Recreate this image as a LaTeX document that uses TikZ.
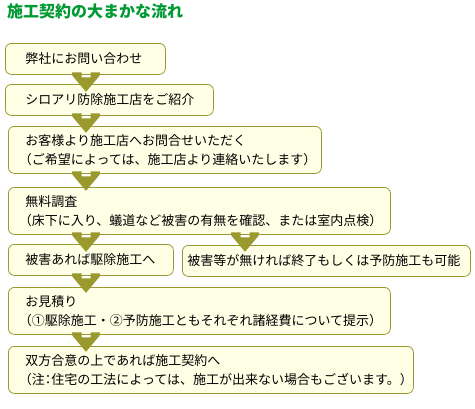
\documentclass[tikz,border=0pt]{standalone}
\usepackage{fontspec}
\newfontfamily\jp{Noto Sans CJK JP}
\newfontfamily\jphalf{Noto Sans CJK JP}[RawFeature=+halt]
\newcommand\hw[1]{{\jphalf #1}}
\definecolor{titlegreen}{RGB}{0,153,51}
\definecolor{boxline}{RGB}{153,153,51}
\definecolor{boxfill}{RGB}{255,255,230}
\definecolor{arrowfill}{RGB}{153,153,46}
\begin{document}
\begin{tikzpicture}[x=1pt,y=-1pt,
    flowbox/.style={draw=boxline,fill=boxfill,line width=0.8pt,rounded corners=6pt,
      anchor=north west,align=left,inner xsep=0pt,inner ysep=0pt,
      font=\jp\fontsize{13}{19}\selectfont,
      execute at begin node={\leftskip=#1}},
    flowbox/.default=17pt,
    flowarrow/.pic={\fill[arrowfill] (-14,-2.5) -- (-4.5,-2.5) -- (-4.5,2.5) -- (4.5,2.5)
      -- (4.5,-2.5) -- (14,-2.5) -- (13.5,1) -- (0,17) -- (-13.5,1) -- cycle;}]
    \useasboundingbox (0,0) rectangle (475,408);
    \node[anchor=base west,inner sep=0pt,text=titlegreen,font=\jp\bfseries\fontsize{16}{16}\selectfont] (title) at (7,17.5) {施工契約の大まかな流れ};
    % boxes
    \node[flowbox=20pt,text width=160,minimum height=31] (ask) at (5,43) {弊社にお問い合わせ};
    \node[flowbox=20pt,text width=208,minimum height=31] (intro) at (5,84) {シロアリ防除施工店をご紹介};
    \node[flowbox,text width=313,minimum height=47] (contact) at (8,126) {お客様より施工店へお問合せいただく\\
      \hw{（}ご希望によっては、施工店より連絡いたします\hw{）}};
    \node[flowbox,text width=382,minimum height=47] (survey) at (8,187) {無料調査\\
      \hw{（}床下に入り、蟻道など被害の有無を確認、または室内点検\hw{）}};
    \node[flowbox,text width=165,minimum height=31] (damage) at (8,244) {被害あれば駆除施工へ};
    \node[flowbox=5pt,text width=288,minimum height=31] (nodamage) at (182,245) {被害等が無ければ終了もしくは予防施工も可能};
    \node[flowbox,text width=382,minimum height=47] (quote) at (8,287) {お見積り\\
      \hw{（}①駆除施工・②予防施工ともそれぞれ諸経費について提示\hw{）}};
    \node[flowbox,text width=405,minimum height=47] (contract) at (8,346) {双方合意の上であれば施工契約へ\\
      \hw{（}注\hw{：}住宅の工法によっては、施工が出来ない場合もございます。\hw{）}};
    % arrows
    \coordinate (lane) at (86,0);
    \coordinate (lane2) at (245,0);
    \pic at (lane |- ask.south) {flowarrow};
    \pic at (lane |- intro.south) {flowarrow};
    \pic at (lane |- contact.south) {flowarrow};
    \pic at (lane |- survey.south) {flowarrow};
    \pic at (lane2 |- survey.south) {flowarrow};
    \pic at (lane |- damage.south) {flowarrow};
    \pic at (lane |- quote.south) {flowarrow};
\end{tikzpicture}
\end{document}
